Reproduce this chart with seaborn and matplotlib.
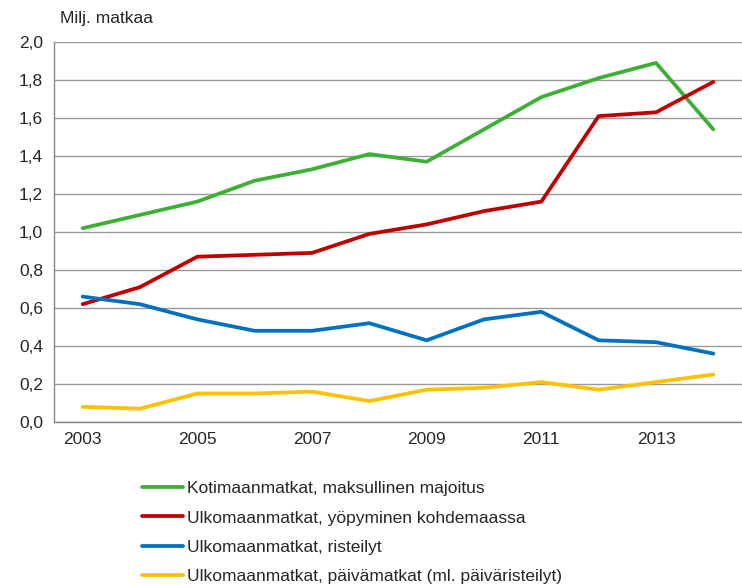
import pandas as pd
import matplotlib.pyplot as plt
import seaborn as sns

# Matkat (milj.) 2003-2014
years = list(range(2003, 2015))
kotimaan = [1.02, 1.09, 1.16, 1.27, 1.33, 1.41, 1.37, 1.54, 1.71, 1.81, 1.89, 1.54]
yopyminen = [0.62, 0.71, 0.87, 0.88, 0.89, 0.99, 1.04, 1.11, 1.16, 1.61, 1.63, 1.79]
risteilyt = [0.66, 0.62, 0.54, 0.48, 0.48, 0.52, 0.43, 0.54, 0.58, 0.43, 0.42, 0.36]
paivamatkat = [0.08, 0.07, 0.15, 0.15, 0.16, 0.11, 0.17, 0.18, 0.21, 0.17, 0.21, 0.25]

series = {
    "Kotimaanmatkat, maksullinen majoitus": kotimaan,
    "Ulkomaanmatkat, yöpyminen kohdemaassa": yopyminen,
    "Ulkomaanmatkat, risteilyt": risteilyt,
    "Ulkomaanmatkat, päivämatkat (ml. päiväristeilyt)": paivamatkat,
}
colors = ["#3cb034", "#c00000", "#0070c0", "#ffc000"]

df = pd.concat(
    [pd.DataFrame({"Vuosi": years, "Matkat": v, "Sarja": k}) for k, v in series.items()],
    ignore_index=True,
)

sns.set_style("white")
plt.rcParams["font.family"] = ["Liberation Sans", "DejaVu Sans"]

fig = plt.figure(figsize=(7.42, 5.85), dpi=100)
ax = fig.add_axes([54 / 742, 1 - 422 / 585, 1 - 54 / 742, 380 / 585])

sns.lineplot(data=df, x="Vuosi", y="Matkat", hue="Sarja", palette=colors,
             linewidth=2.7, ax=ax, legend=False)

ax.set_xlim(2002.5, 2014.5)
ax.set_ylim(0, 2.0)
ax.set_yticks([i / 10 for i in range(0, 21, 2)])
ax.set_yticklabels([f"{i / 10:.1f}".replace(".", ",") for i in range(0, 21, 2)], fontsize=12.5)
ax.set_xticks([2003, 2005, 2007, 2009, 2011, 2013])
ax.set_xticklabels(["2003", "2005", "2007", "2009", "2011", "2013"], fontsize=12.5)
ax.set_xticks([y + 0.5 for y in range(2002, 2015)], minor=True)
ax.tick_params(axis="x", which="major", length=0, pad=7)
ax.tick_params(axis="x", which="minor", length=5, color="#888888", direction="out")
ax.tick_params(axis="y", length=5, color="#888888", direction="out", pad=3)
ax.yaxis.grid(True, color="#999999", linewidth=1)
ax.set_axisbelow(True)
ax.set_xlabel("")
ax.set_ylabel("")
for s in ["top", "right"]:
    ax.spines[s].set_visible(False)
for s in ["left", "bottom"]:
    ax.spines[s].set_color("#888888")
    ax.spines[s].set_linewidth(1)

fig.text(60 / 742, 1 - 19 / 585, "Milj. matkaa", fontsize=12.5, va="center")

handles = [plt.Line2D([], [], color=c, linewidth=2.7) for c in colors]
fig.legend(handles, list(series.keys()), loc="upper left",
           bbox_to_anchor=(142 / 742, 1 - 481 / 585), frameon=False, borderpad=0,
           borderaxespad=0, fontsize=12.5, handlelength=2.35, handletextpad=0.25,
           labelspacing=0.82)

plt.savefig("out.png", dpi=100)
